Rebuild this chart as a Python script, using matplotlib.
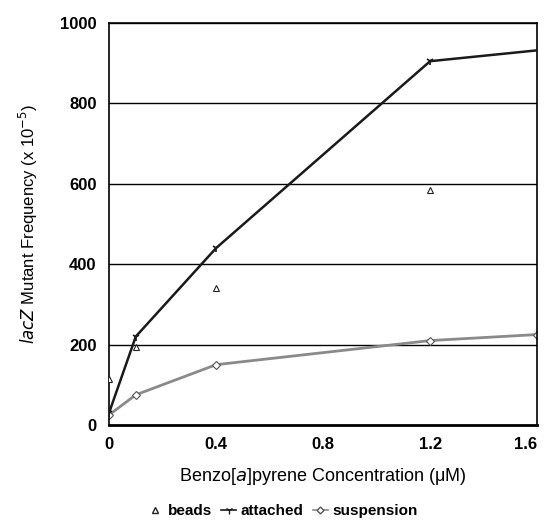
import matplotlib
matplotlib.use("Agg")
import matplotlib.pyplot as plt
from matplotlib.lines import Line2D

# data
conc = [0, 0.1, 0.4, 1.2, 1.6]
attached = [30, 220, 440, 905, 932]
suspension = [25, 75, 150, 210, 225]
beads_x = [0, 0.1, 0.4, 1.2]
beads = [115, 195, 340, 585]

xticks = [0, 0.4, 0.8, 1.2, 1.6]
xtick_labels = ["0", "0.4", "0.8", "1.2", "1.6"]
yticks = [0, 200, 400, 600, 800, 1000]

plt.rcParams["font.family"] = ["Liberation Sans", "DejaVu Sans"]

fig = plt.figure(figsize=(5.44, 5.23), dpi=100)
ax = fig.add_axes([0.2004, 0.1874, 0.787, 0.7686])

for y in yticks[1:]:
    ax.axhline(y, color="black", lw=1.0, zorder=1)

ax.plot(conc, suspension, color="#8a8a8a", lw=2.0, marker="D", ms=4,
        mfc="white", mec="#555555", mew=0.8, zorder=2)
ax.plot(conc[:4], attached[:4], color="#1a1a1a", lw=1.8, marker="1", ms=6,
        mec="#1a1a1a", mew=1.2, zorder=3)
ax.plot(conc[3:], attached[3:], color="#1a1a1a", lw=1.8, zorder=3)
ax.plot(beads_x, beads, ls="none", marker="^", ms=5, mfc="white",
        mec="#222222", mew=0.8, zorder=4)

ax.set_xlim(0, 1.6)
ax.set_ylim(0, 1000)
ax.set_xticks(xticks)
ax.set_xticklabels(xtick_labels, fontsize=12, fontweight="bold")
ax.get_xticklabels()[-1].set_horizontalalignment("right")
ax.set_yticks(yticks)
ax.set_yticklabels([str(v) for v in yticks], fontsize=12, fontweight="bold")
ax.tick_params(length=0, pad=9)
for s in ax.spines.values():
    s.set_linewidth(1.2)
ax.spines["bottom"].set_linewidth(2.0)

ax.set_xlabel("Benzo[$\\it{a}$]pyrene Concentration (\u03bcM)", fontsize=13, labelpad=10)
ax.set_ylabel("$\\it{lacZ}$ Mutant Frequency (x 10$^{-5}$)", fontsize=12, labelpad=14)

handles = [
    Line2D([], [], ls="none", marker="^", ms=5, mfc="white", mec="#222222"),
    Line2D([], [], color="#1a1a1a", lw=1.2, marker="1", ms=6),
    Line2D([], [], color="#8a8a8a", lw=1.2, marker="D", ms=3.5, mfc="white", mec="#555555"),
]
fig.legend(handles, ["beads", "attached", "suspension"], loc="center",
           bbox_to_anchor=(0.52, 0.022), ncol=3, frameon=False, handlelength=1.0,
           handletextpad=0.3, columnspacing=0.6, prop={"weight": "bold", "size": 11})

fig.savefig("out.png", dpi=100)
